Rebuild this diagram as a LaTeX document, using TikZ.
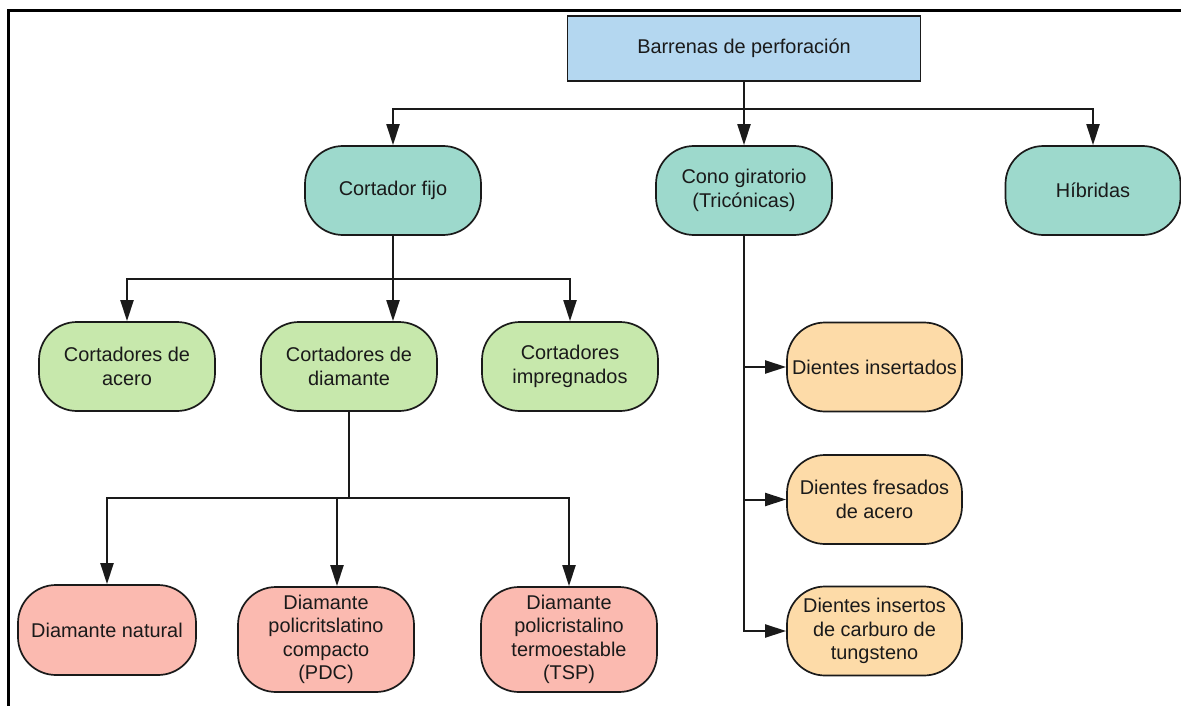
\documentclass[tikz,border=0pt]{standalone}
\usepackage{fontspec}
\setmainfont{Liberation Sans}
\usetikzlibrary{arrows.meta,calc}
\definecolor{rootc}{HTML}{B4D7F0}
\definecolor{tealc}{HTML}{9DD9CC}
\definecolor{greenc}{HTML}{C7E8AC}
\definecolor{orangec}{HTML}{FDDBA8}
\definecolor{pinkc}{HTML}{FBBAB0}
\definecolor{txt}{HTML}{1A1A1A}
\begin{document}
\begin{tikzpicture}[x=1pt,y=-1pt,
  box/.style={draw=txt, line width=1.7pt, rounded corners=38pt, minimum width=176pt,
    minimum height=89pt, align=center, inner sep=0pt, text=txt,
    font=\fontsize{19.9}{23.5}\selectfont},
  rootbox/.style={box, rounded corners=0pt, fill=rootc, minimum width=353pt, minimum height=65pt},
  lvone/.style={box, fill=tealc},
  lvtwo/.style={box, fill=greenc},
  lvthree/.style={box, fill=pinkc},
  teeth/.style={box, fill=orangec},
  ln/.style={line width=2pt, draw=txt},
  arr/.style={ln, -{Triangle[length=21pt 0,width=13pt 0]}},
  frameline/.style={line width=2.7pt, line join=miter}
]
\useasboundingbox (0,0) rectangle (1181,706);
\draw[frameline] (8.7,706) -- (8.7,10.5) -- (1181,10.5);

\node[rootbox] (root) at (744,48.5) {Barrenas de perforación};

\node[lvone] (cf) at (393,190.5) {Cortador fijo};
\node[lvone] (cg) at (744,190.5) {Cono giratorio\\(Tricónicas)};
\node[lvone, minimum width=175pt] (hy) at (1093,190.5) {Híbridas};

\node[lvtwo] (ca) at (127,366.5) {Cortadores de\\acero};
\node[lvtwo] (cd) at (349,366.5) {Cortadores de\\diamante};
\node[lvtwo] (ci) at (570,366.5) {Cortadores\\impregnados};

\node[lvthree, minimum width=178pt, minimum height=90pt] (dn) at (107,630) {Diamante natural};
\node[lvthree, minimum height=105pt] (pdc) at (326,639.5) {Diamante\\policritslatino\\compacto\\(PDC)};
\node[lvthree, minimum height=105pt] (tsp) at (569,639.5) {Diamante\\policristalino\\termoestable\\(TSP)};

\node[teeth, minimum width=175pt] (d1) at (874.5,367) {Dientes insertados};
\node[teeth, minimum width=175pt] (d2) at (874.5,499.5) {Dientes fresados\\de acero};
\node[teeth, minimum width=175pt] (d3) at (874.5,631) {Dientes insertos\\de carburo de\\tungsteno};

% level 1
\draw[arr] (root.south) -- (cg.north);
\draw[arr] (root.south) -- ++(0,27) -| (cf.north);
\draw[arr] (root.south) -- ++(0,27) -| (hy.north);

% level 2
\draw[arr] (cf.south) -- (cf.south |- cd.north);
\draw[arr] (cf.south) -- ++(0,43) -| (ca.north);
\draw[arr] (cf.south) -- ++(0,43) -| (ci.north);

% level 3
\draw[arr] (cd.south) -- ++(0,86) -| (dn.north);
\draw[arr] (cd.south) -- ++(0,86) -| ($(pdc.north)+(11,0)$);
\draw[arr] (cd.south) -- ++(0,86) -| (tsp.north);

% teeth
\draw[arr] (cg.south) |- (d1.west);
\draw[arr] (cg.south) |- (d2.west);
\draw[arr] (cg.south) |- (d3.west);
\end{tikzpicture}
\end{document}
